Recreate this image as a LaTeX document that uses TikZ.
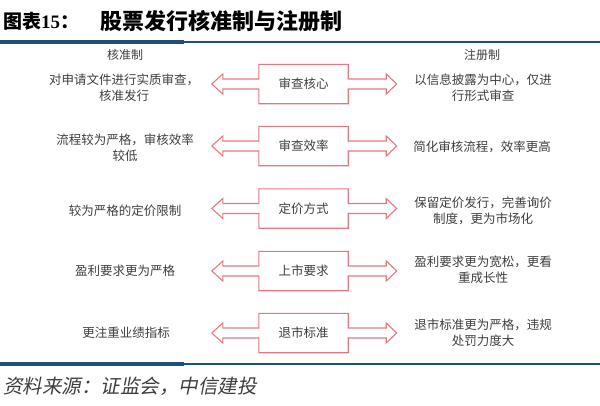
\documentclass[tikz,border=0pt]{standalone}
\usepackage{fontspec}
\setmainfont{Liberation Serif}
\newfontfamily\cjk{Noto Sans CJK SC}
\newfontfamily\cjkslant[FakeSlant=0.2]{Noto Sans CJK SC}
\usetikzlibrary{calc}
\definecolor{ruleblue}{HTML}{1F4E79}
\definecolor{arrowred}{RGB}{232,118,128}
\definecolor{textgray}{RGB}{62,62,62}

\begin{document}
\begin{tikzpicture}[x=1pt,y=-1pt,
  rule/.style={ruleblue,line width=2.6pt},
  head/.style={font=\cjk\fontsize{12}{15}\selectfont,text=textgray,inner sep=0pt},
  desc/.style={font=\cjk\fontsize{12.5}{16}\selectfont,text=textgray,align=center,inner sep=0pt},
  keybox/.style={minimum width=89pt,minimum height=39pt,inner sep=0pt,
    font=\cjk\fontsize{12.5}{15}\selectfont,text=textgray},
  outline/.style={arrowred,line width=1.1pt,line join=miter}]
  \useasboundingbox (0,0) rectangle (600,405);

  % title and rules
  \node[anchor=west,inner sep=0pt] (title) at (3,21)
    {\cjk\bfseries\fontsize{19}{19}\selectfont 图表\textbf{\rmfamily 15}：};
  \node[anchor=west,inner sep=0pt] (titlemain) at (100,21)
    {\cjk\bfseries\fontsize{22}{22}\selectfont 股票发行核准制与注册制};
  \draw[rule] (0,42) -- (600,42);
  \draw[rule,line width=3.4pt] (0,42) -- (184,42);
  \draw[rule] (0,364) -- (600,364);
  \draw[rule,line width=3.4pt] (0,364) -- (184,364);

  \node[head] (hleft) at (125,55) {核准制};
  \node[head] (hright) at (482,55) {注册制};

  % middle keys
  \node[keybox] (k1) at (303.5,84) {审查核心};
  \node[keybox] (k2) at (303.5,146) {审查效率};
  \node[keybox] (k3) at (303.5,208.5) {定价方式};
  \node[keybox] (k4) at (303.5,271) {上市要求};
  \node[keybox] (k5) at (303.5,333) {退市标准};

  \foreach \b in {k1,k2,k3,k4,k5}
    \draw[outline] (\b.north west) -- (\b.north east) -- ($(\b.east)+(0,-5)$)
      -- ++(38,0) -- ++(0,-5) -- ++(10.5,10) -- ++(-10.5,10) -- ++(0,-5)
      -- ($(\b.east)+(0,5)$) -- (\b.south east) -- (\b.south west)
      -- ($(\b.west)+(0,5)$) -- ++(-36,0) -- ++(0,5) -- ++(-11,-10)
      -- ++(11,-10) -- ++(0,5) -- ($(\b.west)+(0,-5)$) -- cycle;

  % left column
  \node[desc] (l1) at (124,88) {对申请文件进行实质审查，\\核准发行};
  \node[desc] (l2) at (125,148) {流程较为严格，审核效率\\较低};
  \node[desc] (l3) at (125,211) {较为严格的定价限制};
  \node[desc] (l4) at (125,271) {盈利要求更为严格};
  \node[desc] (l5) at (126,333) {更注重业绩指标};

  % right column
  \node[desc] (r1) at (483,88) {以信息披露为中心，仅进\\行形式审查};
  \node[desc] (r2) at (482,147) {简化审核流程，效率更高};
  \node[desc] (r3) at (483,211) {保留定价发行，完善询价\\制度，更为市场化};
  \node[desc] (r4) at (483,270) {盈利要求更为宽松，更看\\重成长性};
  \node[desc] (r5) at (483,333) {退市标准更为严格，违规\\处罚力度大};

  % source
  \node[anchor=west,inner sep=0pt,text=textgray] (source) at (3,386)
    {\cjkslant\fontsize{19.5}{19.5}\selectfont 资料来源：证监会，中信建投};
\end{tikzpicture}
\end{document}
